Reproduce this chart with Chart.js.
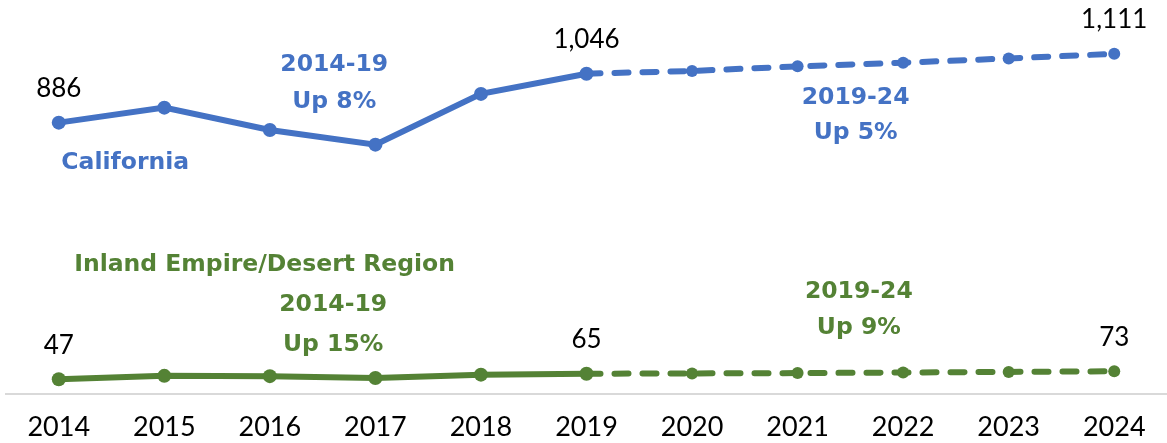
<!DOCTYPE html>
<html>
<head>
<meta charset="utf-8">
<script src="https://cdn.jsdelivr.net/npm/chart.js@4"></script>
<style>
  html, body { margin: 0; padding: 0; background: #fff; }
  #wrap { width: 1167px; height: 443px; }
</style>
</head>
<body>
<div id="wrap"><canvas id="jobsChart"></canvas></div>
<script>
// dados
const years = ['2014', '2015', '2016', '2017', '2018', '2019', '2020', '2021', '2022', '2023', '2024'];
const california = [886, 935, 862, 814, 980, 1046, 1055, 1070, 1082, 1096, 1111];
const inland = [47, 58, 57, 51, 62, 65, 66, 67, 69, 71, 73];
const labeledIdx = [0, 5, 10];
const splitIdx = 5; // a partir de 2019 a linha fica tracejada

const BLUE = '#4472C4';
const GREEN = '#548235';

// textos soltos: x em indice de categoria, y em unidades do eixo
const notes = [
  { text: '2014-19', x: 2.61, y: 1075, color: BLUE },
  { text: 'Up 8%', x: 2.61, y: 954, color: BLUE },
  { text: 'California', x: 0.63, y: 755, color: BLUE },
  { text: '2019-24', x: 7.55, y: 967, color: BLUE },
  { text: 'Up 5%', x: 7.55, y: 853, color: BLUE },
  { text: 'Inland Empire/Desert Region', x: 1.95, y: 421, color: GREEN },
  { text: '2014-19', x: 2.6, y: 291, color: GREEN },
  { text: 'Up 15%', x: 2.6, y: 160, color: GREEN },
  { text: '2019-24', x: 7.58, y: 333, color: GREEN },
  { text: 'Up 9%', x: 7.58, y: 216, color: GREEN }
];

const fmt = v => v.toLocaleString('en-US');

const textPlugin = {
  id: 'textPlugin',
  afterDatasetsDraw(chart) {
    const { ctx, scales } = chart;
    ctx.save();
    ctx.textAlign = 'center';
    ctx.textBaseline = 'middle';

    // valores em cima dos pontos
    ctx.fillStyle = '#000';
    ctx.font = '26px Lato';
    chart.data.datasets.forEach((ds, di) => {
      const meta = chart.getDatasetMeta(di);
      labeledIdx.forEach(i => {
        const pt = meta.data[i];
        ctx.fillText(fmt(ds.data[i]), pt.x, pt.y - 34);
      });
    });

    // anotacoes em negrito
    ctx.font = 'bold 23.5px "DejaVu Sans"';
    notes.forEach(n => {
      ctx.fillStyle = n.color;
      ctx.fillText(n.text, scales.x.getPixelForValue(n.x), scales.y.getPixelForValue(n.y));
    });
    ctx.restore();
  }
};

function makeSeries(label, data, color) {
  return {
    label: label,
    data: data,
    borderColor: color,
    backgroundColor: color,
    borderWidth: 6,
    borderCapStyle: 'round',
    pointRadius: ctx => ctx.dataIndex > splitIdx ? 6 : 7,
    pointHoverRadius: 7,
    pointBorderWidth: 0,
    tension: 0,
    segment: {
      borderDash: ctx => ctx.p0DataIndex >= splitIdx ? [14, 14] : undefined
    }
  };
}

new Chart(document.getElementById('jobsChart'), {
  type: 'line',
  data: {
    labels: years,
    datasets: [
      makeSeries('California', california, BLUE),
      makeSeries('Inland Empire/Desert Region', inland, GREEN)
    ]
  },
  options: {
    responsive: true,
    maintainAspectRatio: false,
    animation: false,
    // o eixo x reserva o padding duas vezes, por isso o bottom negativo
    layout: { autoPadding: false, padding: { left: 6, right: 0, top: 0, bottom: -17 } },
    plugins: {
      legend: { display: false },
      tooltip: { enabled: false }
    },
    scales: {
      x: {
        offset: true,
        grid: { display: false, drawTicks: false },
        border: { display: true, color: '#d9d9d9', width: 2 },
        ticks: {
          color: '#000',
          padding: 17,
          font: { family: 'Lato', size: 27 },
          maxRotation: 0
        }
      },
      y: {
        display: false,
        min: 0,
        max: 1287
      }
    }
  },
  plugins: [textPlugin]
});
</script>
</body>
</html>
